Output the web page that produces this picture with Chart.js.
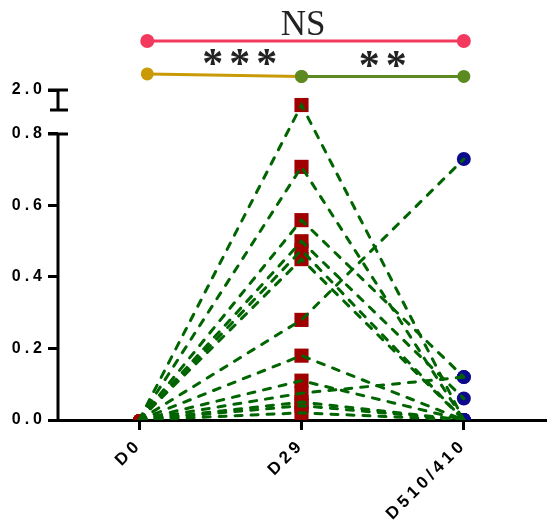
<!DOCTYPE html>
<html>
<head>
<meta charset="utf-8">
<script src="https://cdn.jsdelivr.net/npm/chart.js@4.4.1/dist/chart.umd.min.js"></script>
<style>
  html, body { margin: 0; padding: 0; background: #fff; overflow: hidden; }
  canvas { display: block; }
</style>
</head>
<body>
<canvas id="pairChart" width="547" height="527"></canvas>
<script>
// time points on the x axis
const groups = ['D0', 'D29', 'D510/410'];

// one entry per subject
const d0Values   = [0, 0, 0, 0, 0, 0, 0, 0, 0, 0, 0, 0, 0];
const d29Values  = [0.881, 0.708, 0.559, 0.50, 0.475, 0.45, 0.28, 0.18, 0.11, 0.075, 0.05, 0.04, 0.02];
const d510Values = [0, 0, 0.12, 0.06, 0, 0, 0.73, 0, 0, 0.12, 0, 0, 0];

// y axis ticks (the top one sits above the axis break)
const yTickValues = [0, 0.2, 0.4, 0.6, 0.8, 0.923];
const yTickLabels = ['0.0', '0.2', '0.4', '0.6', '0.8', '2.0'];
const breakBottom = 0.867;

// significance labels
const sigLabels = ['NS', '***', '**'];

const lineGreen = '#006400';

function subjectLines() {
  return d29Values.map((v, i) => ({
    type: 'line',
    data: [{x: 0, y: d0Values[i]}, {x: 1, y: v}, {x: 2, y: d510Values[i]}],
    borderColor: lineGreen,
    borderWidth: 3,
    borderDash: [7, 9],
    borderCapStyle: 'round',
    pointRadius: 0,
    fill: false,
    order: 1
  }));
}

function pointSet(xv, values, color, style, r) {
  return {
    type: 'scatter',
    data: values.map(v => ({x: xv, y: v})),
    backgroundColor: color,
    borderWidth: 0,
    pointStyle: style,
    pointRadius: r,
    order: 2
  };
}

function sigBar(points, color, dotColors, r) {
  return {
    type: 'line',
    data: points,
    borderColor: color,
    borderWidth: 3,
    pointBackgroundColor: dotColors,
    pointBorderWidth: 0,
    pointRadius: r,
    fill: false,
    order: 0
  };
}

const datasets = [
  pointSet(0, d0Values, '#a00000', 'circle', 6),
  pointSet(1, d29Values, '#a00000', 'rect', 10),
  pointSet(2, d510Values, '#0b0b8c', 'circle', 7),
  ...subjectLines(),
  sigBar([{x: 0.05, y: 1.06}, {x: 2, y: 1.06}], '#f4395f', ['#f4395f', '#f4395f'], 7),
  sigBar([{x: 0.05, y: 0.968}, {x: 1, y: 0.961}], '#c99a06', ['#c99a06', '#5c8a20'], 6.5),
  sigBar([{x: 1, y: 0.961}, {x: 2, y: 0.961}], '#5c8a20', ['#5c8a20', '#5c8a20'], 6.5)
];

const decor = {
  id: 'decor',
  beforeDraw(chart) {
    chart.ctx.letterSpacing = '4px';
  },
  afterDraw(chart) {
    const ctx = chart.ctx;
    const x = chart.scales.x, y = chart.scales.y;
    const ax = chart.chartArea.left;
    ctx.save();
    ctx.strokeStyle = '#000';
    ctx.lineWidth = 3;
    ctx.beginPath();
    ctx.moveTo(ax, y.getPixelForValue(0) + 1.5);
    ctx.lineTo(ax, y.getPixelForValue(0.8));
    ctx.moveTo(ax - 10, y.getPixelForValue(0.8));
    ctx.lineTo(ax + 10, y.getPixelForValue(0.8));
    ctx.moveTo(ax, y.getPixelForValue(0.923));
    ctx.lineTo(ax, y.getPixelForValue(breakBottom));
    ctx.moveTo(ax - 10, y.getPixelForValue(0.923));
    ctx.lineTo(ax + 10, y.getPixelForValue(0.923));
    ctx.moveTo(ax - 8, y.getPixelForValue(breakBottom));
    ctx.lineTo(ax + 10, y.getPixelForValue(breakBottom));
    ctx.stroke();

    ctx.fillStyle = '#222';
    ctx.textAlign = 'center';
    ctx.textBaseline = 'alphabetic';
    ctx.letterSpacing = '0px';
    ctx.font = '35px "Liberation Serif"';
    ctx.fillText(sigLabels[0], x.getPixelForValue(1.01), y.getPixelForValue(1.105) + 10);
    ctx.font = 'bold 42px "Liberation Serif"';
    ctx.letterSpacing = '6px';
    ctx.fillText(sigLabels[1], x.getPixelForValue(0.62) + 3, y.getPixelForValue(0.99) + 11);
    ctx.fillText(sigLabels[2], x.getPixelForValue(1.5) + 3, y.getPixelForValue(0.99) + 13);
    ctx.restore();
  }
};

new Chart(document.getElementById('pairChart'), {
  data: { datasets: datasets },
  options: {
    responsive: false,
    animation: false,
    layout: { autoPadding: false, padding: { top: 16, right: 2, left: 0, bottom: 0 } },
    plugins: { legend: { display: false }, tooltip: { enabled: false } },
    scales: {
      x: {
        type: 'linear',
        min: -0.5,
        max: 2.5,
        afterBuildTicks: s => { s.ticks = groups.map((g, i) => ({value: i})); },
        afterFit: s => { s.height = 107; s.paddingLeft = 0; s.paddingRight = 0; },
        ticks: {
          callback: v => groups[v],
          maxRotation: 45,
          minRotation: 45,
          color: '#000',
          padding: 5,
          font: { family: '"Liberation Sans"', size: 17, weight: 'bold' }
        },
        grid: { drawOnChartArea: false, color: '#000', lineWidth: 3, tickLength: 10 },
        border: { color: '#000', width: 3 }
      },
      y: {
        min: 0,
        max: 1.13,
        afterBuildTicks: s => { s.ticks = yTickValues.map(v => ({value: v})); },
        afterFit: s => { s.width = 58; s.paddingTop = 0; s.paddingBottom = 0; },
        ticks: {
          callback: (v, i) => yTickLabels[i],
          color: '#000',
          padding: 2,
          font: { family: '"Liberation Sans"', size: 16, weight: 'bold' }
        },
        grid: { drawOnChartArea: false, color: '#000', lineWidth: 3, tickLength: 10 },
        border: { display: false }
      }
    }
  },
  plugins: [decor]
});
</script>
</body>
</html>
